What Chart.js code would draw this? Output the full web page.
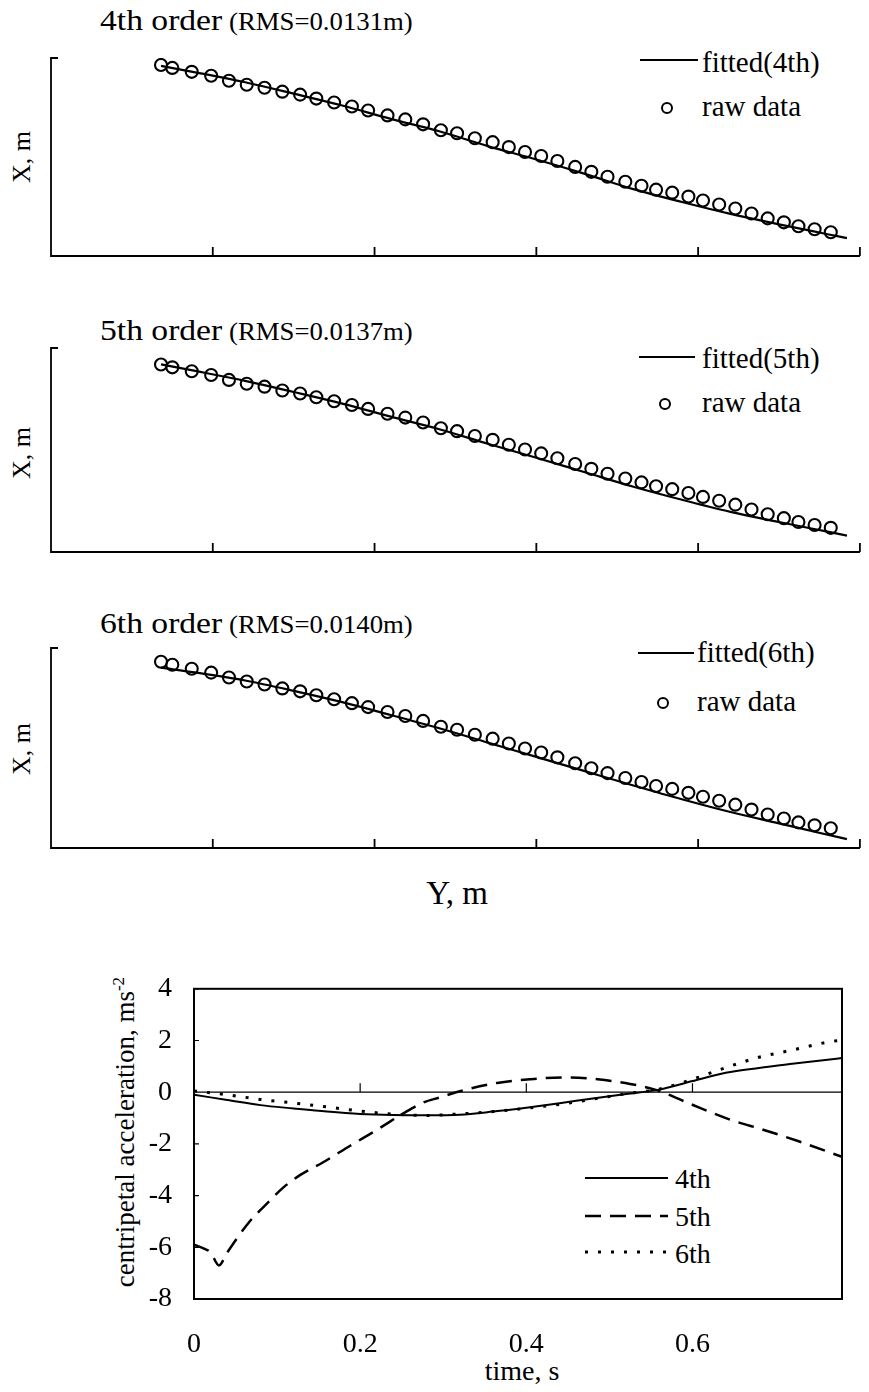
<!DOCTYPE html>
<html>
<head>
<meta charset="utf-8">
<title>polynomial fits and centripetal acceleration</title>
<script src="https://cdn.jsdelivr.net/npm/chart.js@4.4.1/dist/chart.umd.min.js"></script>
<style>
  html, body { margin: 0; padding: 0; background: #fff; }
  body { position: relative; width: 869px; height: 1392px; overflow: hidden; font-family: "Liberation Serif", "Times New Roman", serif; color: #000; }
  .t { position: absolute; white-space: nowrap; line-height: 1; }
  .wide { transform-origin: 0 0; transform: scaleX(1.12); }
  .rms { transform-origin: 0 0; transform: scaleX(1.07); }
  .rot { transform: translate(-50%, -50%) rotate(-90deg); }
  .ln { position: absolute; height: 0; border-top: 2px solid #000; }
  .dot { position: absolute; width: 8px; height: 8px; border: 2px solid #000; border-radius: 50%; }
  canvas { position: absolute; }
</style>
</head>
<body>

<div class="t wide" style="left:100px;top:5px;font-size:30px">4th order</div>
<div class="t rms" style="left:229px;top:9px;font-size:25px">(RMS=0.0131m)</div>
<div class="ln" style="left:640px;top:59px;width:58px"></div>
<div class="t" style="left:702px;top:48px;font-size:29px">fitted(4th)</div>
<div class="dot" style="left:661px;top:102px"></div>
<div class="t" style="left:702px;top:92px;font-size:29px">raw data</div>
<div class="t rot" style="left:22px;top:157px;font-size:26px">X, m</div>

<div class="t wide" style="left:100px;top:315px;font-size:30px">5th order</div>
<div class="t rms" style="left:229px;top:319px;font-size:25px">(RMS=0.0137m)</div>
<div class="ln" style="left:639px;top:356px;width:56px"></div>
<div class="t" style="left:702px;top:344px;font-size:29px">fitted(5th)</div>
<div class="dot" style="left:659px;top:398px"></div>
<div class="t" style="left:702px;top:388px;font-size:29px">raw data</div>
<div class="t rot" style="left:22px;top:453px;font-size:26px">X, m</div>

<div class="t wide" style="left:100px;top:608px;font-size:30px">6th order</div>
<div class="t rms" style="left:229px;top:612px;font-size:25px">(RMS=0.0140m)</div>
<div class="ln" style="left:638px;top:652px;width:56px"></div>
<div class="t" style="left:697px;top:638px;font-size:29px">fitted(6th)</div>
<div class="dot" style="left:657px;top:697px"></div>
<div class="t" style="left:697px;top:687px;font-size:29px">raw data</div>
<div class="t rot" style="left:22px;top:749px;font-size:26px">X, m</div>

<div class="t" style="left:457px;top:877px;font-size:33px;transform:translateX(-50%)">Y, m</div>

<div class="t rot" style="left:124px;top:1132px;font-size:27px">centripetal acceleration, ms<sup style="font-size:17px">-2</sup></div>
<div class="t" style="left:522px;top:1357px;font-size:28px;transform:translateX(-50%)">time, s</div>
<div class="t" style="left:675px;top:1165px;font-size:28px">4th</div>
<div class="t" style="left:675px;top:1203px;font-size:28px">5th</div>
<div class="t" style="left:675px;top:1240px;font-size:28px">6th</div>

<script>
// raw trajectory samples, same in all three panels (Y along the bottom, X up)
const rawY = [0.68, 0.75, 0.87, 0.99, 1.10, 1.21, 1.32, 1.43, 1.54, 1.64, 1.75, 1.86, 1.96, 2.08, 2.19, 2.30, 2.41, 2.51, 2.62, 2.73, 2.83, 2.93, 3.03, 3.13, 3.24, 3.34, 3.44, 3.55, 3.65, 3.74, 3.84, 3.94, 4.03, 4.13, 4.23, 4.33, 4.43, 4.53, 4.62, 4.72, 4.82]
const rawX = [1.93, 1.90, 1.86, 1.82, 1.77, 1.73, 1.70, 1.66, 1.63, 1.59, 1.55, 1.51, 1.47, 1.42, 1.38, 1.33, 1.27, 1.24, 1.19, 1.15, 1.10, 1.05, 1.01, 0.96, 0.90, 0.85, 0.80, 0.75, 0.71, 0.67, 0.64, 0.60, 0.56, 0.52, 0.48, 0.43, 0.38, 0.34, 0.30, 0.27, 0.24]

// fitted polynomials, read at these Y positions
const fitY = [0.68, 0.9, 1.2, 1.5, 1.8, 2.1, 2.4, 2.7, 3.0, 3.3, 3.6, 3.9, 4.2, 4.5, 4.8, 4.92]
const fit4X = [1.92, 1.853, 1.755, 1.64, 1.52, 1.385, 1.26, 1.11, 0.975, 0.83, 0.675, 0.545, 0.425, 0.32, 0.22, 0.18]
const fit5X = [1.93, 1.86, 1.76, 1.645, 1.525, 1.39, 1.26, 1.11, 0.965, 0.815, 0.665, 0.53, 0.405, 0.30, 0.20, 0.16]
const fit6X = [1.87, 1.82, 1.74, 1.635, 1.52, 1.39, 1.255, 1.11, 0.965, 0.82, 0.675, 0.535, 0.405, 0.29, 0.175, 0.13]

// tick marks along the Y axis (no labels in the source)
const yTicks = [1, 2, 3, 4, 5]

// centripetal acceleration vs time
const time = [0, 0.04, 0.08, 0.12, 0.16, 0.20, 0.24, 0.28, 0.32, 0.36, 0.40, 0.44, 0.48, 0.52, 0.56, 0.60, 0.64, 0.68, 0.72, 0.76, 0.78]
const acc4 = [-0.1, -0.3, -0.5, -0.63, -0.75, -0.84, -0.88, -0.89, -0.87, -0.75, -0.6, -0.43, -0.24, -0.07, 0.1, 0.43, 0.75, 0.94, 1.1, 1.25, 1.32]
const acc6 = [0.05, -0.1, -0.28, -0.42, -0.57, -0.73, -0.85, -0.9, -0.84, -0.75, -0.62, -0.47, -0.27, -0.06, 0.12, 0.5, 0.95, 1.35, 1.63, 1.92, 2.02]
const time5 = [0, 0.012, 0.02, 0.03, 0.04, 0.067, 0.088, 0.107, 0.128, 0.156, 0.188, 0.22, 0.252, 0.276, 0.296, 0.324, 0.365, 0.405, 0.445, 0.486, 0.525, 0.558, 0.598, 0.646, 0.686, 0.727, 0.78]
const acc5 = [-5.9, -6.05, -6.2, -6.7, -6.2, -5.0, -4.3, -3.7, -3.2, -2.7, -2.07, -1.46, -0.82, -0.4, -0.2, 0.07, 0.36, 0.5, 0.57, 0.5, 0.32, 0.07, -0.46, -1.07, -1.46, -1.89, -2.5]
const timeTicks = [0.2, 0.4, 0.6]

Chart.defaults.font.family = '"Liberation Serif", "Times New Roman", serif'
Chart.defaults.color = '#000'

function xyPairs(xs, ys) {
  return xs.map((v, i) => ({ x: v, y: ys[i] }))
}

function addCanvas(left, top, w, h) {
  const cv = document.createElement("canvas")
  cv.width = w
  cv.height = h
  cv.style.left = left + "px"
  cv.style.top = top + "px"
  document.body.appendChild(cv)
  return cv
}

// open L-shaped axes with inward ticks, like the original plots
const openAxes = {
  id: "openAxes",
  afterDraw(chart) {
    const { ctx, chartArea: a, scales } = chart
    ctx.save()
    ctx.strokeStyle = "#000"
    ctx.lineWidth = 1.8
    ctx.beginPath()
    ctx.moveTo(a.left + 7, a.top)
    ctx.lineTo(a.left, a.top)
    ctx.lineTo(a.left, a.bottom)
    ctx.lineTo(a.right, a.bottom)
    yTicks.forEach((v) => {
      const px = scales.x.getPixelForValue(v)
      ctx.moveTo(px, a.bottom)
      ctx.lineTo(px, a.bottom - 9)
    })
    ctx.stroke()
    ctx.restore()
  },
}

const panels = [
  { fit: fit4X, left: 51, right: 863, top: 58, bottom: 256, min: 0, max: 2 },
  { fit: fit5X, left: 51, right: 863, top: 348, bottom: 552, min: -0.01, max: 2.1 },
  { fit: fit6X, left: 51, right: 863, top: 648, bottom: 848, min: 0.04, max: 2.07 },
]

panels.forEach((p) => {
  const pad = { left: 20, right: 5, top: 20, bottom: 20 }
  const cv = addCanvas(p.left - pad.left, p.top - pad.top, p.right - p.left + pad.left + pad.right, p.bottom - p.top + pad.top + pad.bottom)
  new Chart(cv, {
    type: "scatter",
    data: {
      datasets: [
        {
          data: xyPairs(fitY, p.fit),
          showLine: true,
          borderColor: "#000",
          borderWidth: 2.2,
          pointRadius: 0,
          cubicInterpolationMode: "monotone",
        },
        {
          data: xyPairs(rawY, rawX),
          pointRadius: 6,
          pointBorderWidth: 2.1,
          borderColor: "#000",
          backgroundColor: "rgba(0,0,0,0)",
        },
      ],
    },
    options: {
      responsive: false,
      animation: false,
      layout: { padding: pad },
      plugins: { legend: { display: false }, tooltip: { enabled: false } },
      scales: {
        x: { type: "linear", display: false, min: 0, max: 5 },
        y: { type: "linear", display: false, min: p.min, max: p.max },
      },
    },
    plugins: [openAxes],
  })
})

// bottom panel: box frame, zero line with ticks, legend samples
const accFrame = {
  id: "accFrame",
  afterDraw(chart) {
    const { ctx, chartArea: a, scales } = chart
    const y0 = scales.y.getPixelForValue(0)
    ctx.save()
    ctx.strokeStyle = "#000"
    ctx.lineWidth = 1.2
    ctx.beginPath()
    ctx.moveTo(a.left, y0)
    ctx.lineTo(a.right, y0)
    timeTicks.forEach((v) => {
      const px = scales.x.getPixelForValue(v)
      ctx.moveTo(px, y0)
      ctx.lineTo(px, y0 - 9)
    })
    scales.y.ticks.forEach((t) => {
      const py = scales.y.getPixelForValue(t.value)
      ctx.moveTo(a.left, py)
      ctx.lineTo(a.left + 5, py)
    })
    ctx.stroke()
    ctx.lineWidth = 2
    ctx.strokeRect(a.left, a.top, a.right - a.left, a.bottom - a.top)
    // legend line samples
    chart.data.datasets.forEach((ds, i) => {
      const y = [228, 266, 302][i]
      ctx.setLineDash(ds.borderDash || [])
      ctx.lineWidth = ds.borderWidth
      ctx.beginPath()
      ctx.moveTo(485, y)
      ctx.lineTo(568, y)
      ctx.stroke()
    })
    ctx.restore()
  },
}

const accCanvas = addCanvas(100, 950, 760, 442)
new Chart(accCanvas, {
  type: "scatter",
  data: {
    datasets: [
      { label: "4th", data: xyPairs(time, acc4), borderWidth: 2, borderDash: [] },
      { label: "5th", data: xyPairs(time5, acc5), borderWidth: 2.5, borderDash: [16, 9] },
      { label: "6th", data: xyPairs(time, acc6), borderWidth: 3, borderDash: [3, 10] },
    ].map((ds) => ({ ...ds, showLine: true, borderColor: "#000", pointRadius: 0, cubicInterpolationMode: "monotone" })),
  },
  options: {
    responsive: false,
    animation: false,
    layout: { padding: { left: 34, top: 13, right: 18, bottom: 33 } },
    plugins: { legend: { display: false }, tooltip: { enabled: false } },
    scales: {
      x: {
        type: "linear",
        min: 0,
        max: 0.78,
        grid: { display: false, drawTicks: false },
        border: { display: false },
        ticks: { stepSize: 0.2, includeBounds: false, padding: 29, font: { size: 28 } },
        afterFit: (s) => { s.height = 60 },
      },
      y: {
        type: "linear",
        min: -8,
        max: 4,
        grid: { display: false, drawTicks: false },
        border: { display: false },
        ticks: { stepSize: 2, padding: 22, font: { size: 28 } },
        afterFit: (s) => { s.width = 60 },
      },
    },
  },
  plugins: [accFrame],
})
</script>
</body>
</html>
